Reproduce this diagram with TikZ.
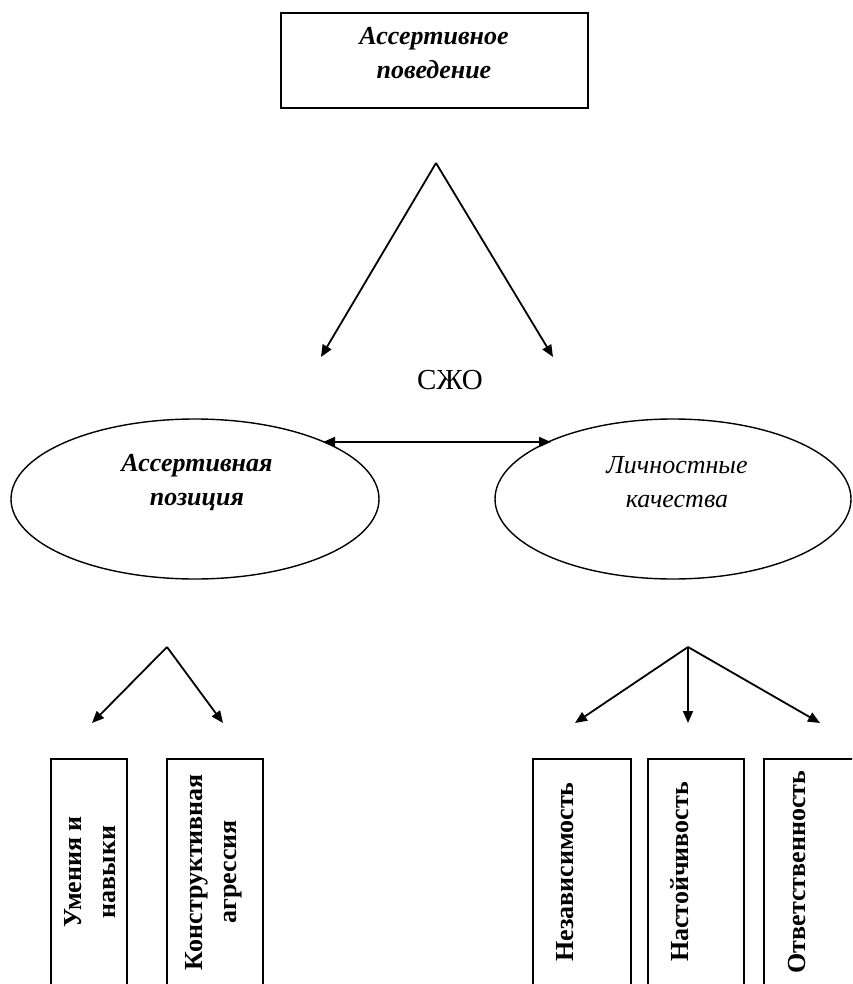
\documentclass[tikz,border=0pt]{standalone}
\usepackage{fontspec}
\setmainfont{Liberation Serif}
\usetikzlibrary{positioning}
\usetikzlibrary{arrows.meta}
\usetikzlibrary{shapes.geometric}

\begin{document}
\begin{tikzpicture}[x=0.5pt,y=-0.5pt,
% Boxes and ellipses style
    box/.style={rectangle,draw,line width=0.9pt,inner sep=0pt},
    oval/.style={ellipse,draw,line width=0.7pt,inner sep=0pt,
		minimum height=80pt},
% Text style
    head/.style={font=\fontsize{13}{17}\selectfont\bfseries\itshape,
		align=center},
    vtext/.style={rotate=90,font=\fontsize{13}{17}\selectfont\bfseries,
		align=center},
% Arrow style
    arr/.style={line width=0.9pt,-{Triangle[length=6pt,width=5pt]}},
    ]
  \useasboundingbox (0,0) rectangle (852,984);
  \clip (0,0) rectangle (852,984);

  % top level
  \node (ab) [box,minimum width=153.5pt,minimum height=47.5pt] at (434.5,60.5) {};
  \node (abt) [head] at (434,53) {Ассертивное\\поведение};

  \coordinate (t0) at (436,163);
  \coordinate (t1) at (321,357);
  \coordinate (t2) at (553,357);
  \draw[arr] (t0) -- (t1);
  \draw[arr] (t0) -- (t2);

  \node (sjo) [font=\fontsize{14.5}{17}\selectfont] at (450,380) {СЖО};

  % ellipses
  \node (pos) [oval,minimum width=184pt] at (195,499) {};
  \node (post) [head] at (197,483) {Ассертивная\\позиция};
  \node (kach) [oval,minimum width=178pt] at (673,499) {};
  \node (kacht) [head,font=\fontsize{13}{17}\selectfont\itshape] at (677,482) {Личностные\\качества};

  \coordinate (d1) at (323,442);
  \coordinate (d2) at (551,442);
  \draw[arr,{Triangle[length=6pt,width=5pt]}-{Triangle[length=6pt,width=5pt]}] (d1) -- (d2);

  % lower arrows
  \coordinate (l0) at (167,647);
  \coordinate (l1) at (92,723);
  \coordinate (l2) at (223,723);
  \draw[arr] (l0) -- (l1);
  \draw[arr] (l0) -- (l2);

  \coordinate (r0) at (688,647);
  \coordinate (r1) at (575,723);
  \coordinate (r2) at (688,723);
  \coordinate (r3) at (820,723);
  \draw[arr] (r0) -- (r1);
  \draw[arr] (r0) -- (r2);
  \draw[arr] (r0) -- (r3);

  % bottom boxes
  \node (b1) [box,minimum width=38pt,minimum height=120.5pt] at (89,879.5) {};
  \node (b2) [box,minimum width=48pt,minimum height=120.5pt] at (215,879.5) {};
  \node (b3) [box,minimum width=49pt,minimum height=120.5pt] at (582,879.5) {};
  \node (b4) [box,minimum width=48pt,minimum height=120.5pt] at (696,879.5) {};
  \node (b5) [box,minimum width=53pt,minimum height=120.5pt] at (817,879.5) {};

  \node (b1t) [vtext] at (90,872) {Умения и\\навыки};
  \node (b2t) [vtext] at (214,872) {Конструктивная\\агрессия};
  \node (b3t) [vtext] at (565,872) {Независимость};
  \node (b4t) [vtext] at (680,872) {Настойчивость};
  \node (b5t) [vtext] at (797,872) {Ответственность};

\end{tikzpicture}
\end{document}
